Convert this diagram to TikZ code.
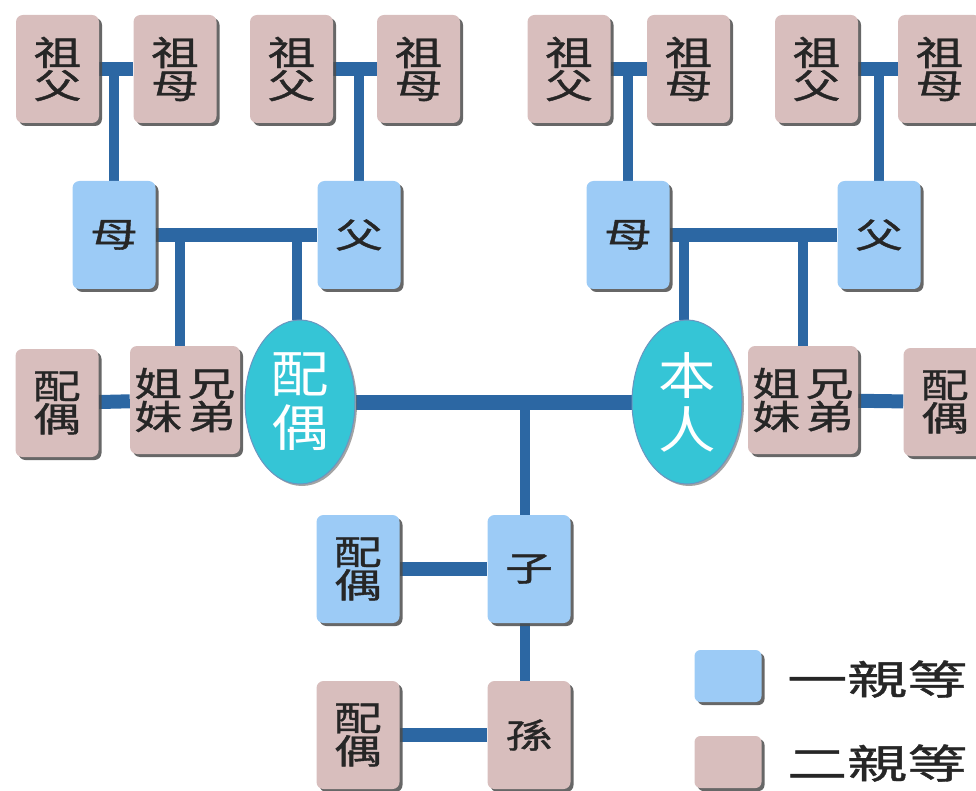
\documentclass[tikz,border=0pt]{standalone}
\usepackage{fontspec}
\setmainfont{Noto Sans CJK TC}[FakeStretch=1.4,FakeBold=1.2]
\newfontfamily\legfont{Noto Sans CJK TC}[FakeStretch=1.5,FakeBold=1]
\newfontfamily\ellfont{Noto Sans CJK TC}[FakeStretch=1.15]
\usetikzlibrary{shapes.geometric,shadows}
\pgfdeclarelayer{bg}
\pgfsetlayers{bg,main}
\definecolor{pinkbox}{HTML}{D8BEBD}
\definecolor{bluebox}{HTML}{9CCBF6}
\definecolor{linkblue}{HTML}{2C67A3}
\definecolor{cyanell}{HTML}{35C5D6}
\tikzset{
  box/.style={rounded corners=7pt, minimum width=83pt, minimum height=108pt,
    inner sep=0pt, align=center, text=black!85,
    font=\fontsize{34}{33}\selectfont,
    drop shadow={shadow xshift=3pt, shadow yshift=-3pt, fill=black!70, opacity=0.85}},
  wide/.style={minimum width=110pt},
  deg1/.style={box, fill=bluebox},
  deg2/.style={box, fill=pinkbox},
  person/.style={ellipse, fill=cyanell, minimum width=110pt, minimum height=164pt,
    inner sep=0pt, align=center, text=white, draw=linkblue!70, line width=1pt,
    font=\ellfont\fontsize{50}{54}\selectfont,
    drop shadow={shadow xshift=2pt, shadow yshift=-2pt, fill=black!60, opacity=0.6}},
  legsq/.style={box, minimum width=67pt, minimum height=52pt, rounded corners=6pt},
  legtext/.style={anchor=west, inner sep=0pt, text=black!85, font=\legfont\fontsize{40}{40}\selectfont},
  couple/.style={draw=linkblue, line width=14pt},
  descent/.style={draw=linkblue, line width=10pt}
}
\begin{document}
\begin{tikzpicture}[x=1pt,y=-1pt]
\useasboundingbox (0,0) rectangle (976,791);
\clip (0,0) rectangle (976,791);
% grandparents
\node[deg2] (gf1) at (57.5,69) {祖\\父};
\node[deg2] (gm1) at (175,69) {祖\\母};
\node[deg2] (gf2) at (291.5,69) {祖\\父};
\node[deg2] (gm2) at (418.5,69) {祖\\母};
\node[deg2] (gf3) at (569,69) {祖\\父};
\node[deg2] (gm3) at (688.5,69) {祖\\母};
\node[deg2] (gf4) at (816.5,69) {祖\\父};
\node[deg2] (gm4) at (939.5,69) {祖\\母};
% parents
\node[deg1] (m1) at (114,235) {母};
\node[deg1] (f1) at (359,235) {父};
\node[deg1] (m2) at (628,235) {母};
\node[deg1] (f2) at (879,235) {父};
% middle row
\node[deg2] (sps1) at (57,403) {配\\偶};
\node[deg2, wide] (sib1) at (185,400) {姐\,兄\\妹\,弟};
\node[person] (sp) at (300,402) {配\\偶};
\node[person] (self) at (687,402) {本\\人};
\node[deg2, wide] (sib2) at (803,400) {姐\,兄\\妹\,弟};
\node[deg2] (sps2) at (945,402) {配\\偶};
% descendants
\node[deg1] (cs) at (358,569) {配\\偶};
\node[deg1] (child) at (529,569) {子};
\node[deg2] (gcs) at (358,735) {配\\偶};
\node[deg2] (gc) at (529,735) {孫};
% legend
\node[legsq, fill=bluebox] (leg1) at (728,676) {};
\node[legtext] (leg1t) at (787,679) {一親等};
\node[legsq, fill=pinkbox] (leg2) at (728,762) {};
\node[legtext] (leg2t) at (787,763) {二親等};
\begin{pgfonlayer}{bg}
  \draw[couple] (gf1) -- (gm1);
  \draw[couple] (gf2) -- (gm2);
  \draw[couple] (gf3) -- (gm3);
  \draw[couple] (gf4) -- (gm4);
  \draw[descent] (m1.north) -- (m1.north |- gf1);
  \draw[descent] (f1.north) -- (f1.north |- gf2);
  \draw[descent] (m2.north) -- (m2.north |- gf3);
  \draw[descent] (f2.north) -- (f2.north |- gf4);
  \draw[couple] (m1) -- (f1);
  \draw[couple] (m2) -- (f2);
  \draw[descent] ([xshift=-5pt]sib1.north) -- ([xshift=-5pt]sib1.north |- m1);
  \draw[descent] ([xshift=-3pt]sp.north) -- ([xshift=-3pt]sp.north |- m1);
  \draw[descent] ([xshift=-3pt]self.north) -- ([xshift=-3pt]self.north |- m2);
  \draw[descent] (sib2.north) -- (sib2.north |- m2);
  \draw[couple] (sps1) -- (sib1);
  \draw[couple] (sib2) -- (sps2);
  \draw[couple, line width=15pt] (sp) -- (self);
  \draw[descent] ([xshift=-4pt]child.north) -- ([xshift=-4pt]child.north |- sp);
  \draw[descent] ([xshift=-4pt]child.south) -- ([xshift=-4pt]gc.north);
  \draw[couple] (cs) -- (child);
  \draw[couple] (gcs) -- (gc);
\end{pgfonlayer}
\end{tikzpicture}
\end{document}
